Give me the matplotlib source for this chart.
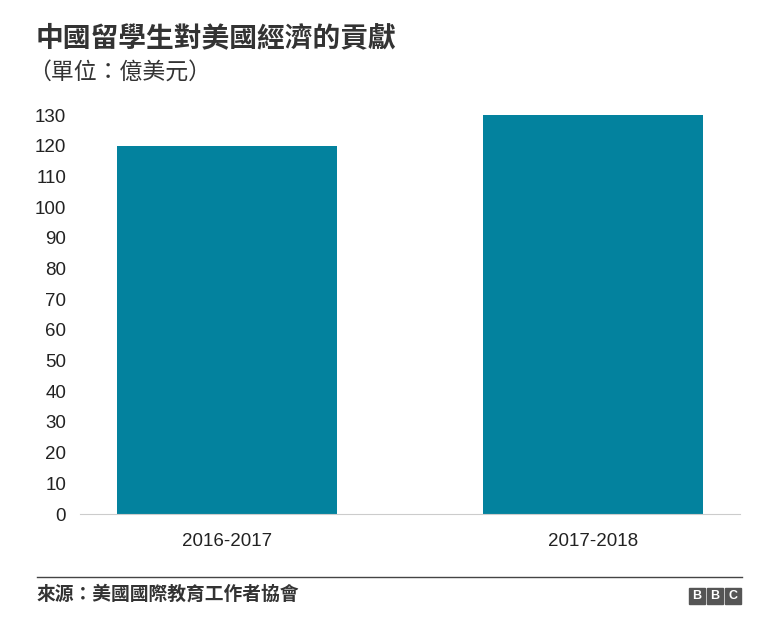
import matplotlib
matplotlib.use("Agg")
import matplotlib.pyplot as plt
from matplotlib.patches import Rectangle

plt.rcParams['font.family'] = ['Noto Sans CJK TC', 'DejaVu Sans']

categories = ['2016-2017', '2017-2018']
values = [120, 130]
yticks = list(range(0, 131, 10))

fig = plt.figure(figsize=(7.67, 6.17), dpi=100)
ax = fig.add_axes([0.1043, 0.1669, 0.8605, 0.6467])
ax.bar(range(len(categories)), values, width=0.6, color='#03829e')
ax.set_xlim(-0.4, 1.4)
ax.set_ylim(0, 130)
ax.set_yticks(yticks)
ax.set_xticks(range(len(categories)))
ax.set_xticklabels(categories)
for s in ['top', 'right', 'left']:
    ax.spines[s].set_visible(False)
ax.spines['bottom'].set_color('#cccccc')
ax.tick_params(axis='y', length=0, labelsize=13.5, colors='#222222', pad=10)
ax.tick_params(axis='x', length=0, labelsize=13.5, colors='#222222', pad=14)
for lab in ax.get_yticklabels() + ax.get_xticklabels():
    lab.set_family(['Liberation Sans', 'DejaVu Sans'])

fig.text(36/767, 1-38/617, '中國留學生對美國經濟的貢獻', fontsize=20, fontweight='bold', color='#333333', va='center')
fig.text(28/767, 1-72/617, '（單位：億美元）', fontsize=16.5, color='#333333', va='center')

fig.add_artist(plt.Line2D([37/767, 742/767], [1-577/617, 1-577/617], color='#444444', lw=1))
fig.text(37/767, 1-594/617, '來源：美國國際教育工作者協會', fontsize=13.5, fontweight='bold', color='#333333', va='center')

# BBC logo
for i, ch in enumerate('BBC'):
    x0 = (689 + i*18)/767
    fig.add_artist(Rectangle((x0, 1-604/617), 16/767, 16/617, color='#555555', transform=fig.transFigure))
    fig.text(x0 + 8/767, 1-596/617, ch, fontsize=9, fontweight='bold', color='white',
             ha='center', va='center', family=['Liberation Sans', 'DejaVu Sans'])

fig.savefig('out.png', dpi=100, facecolor='white')
